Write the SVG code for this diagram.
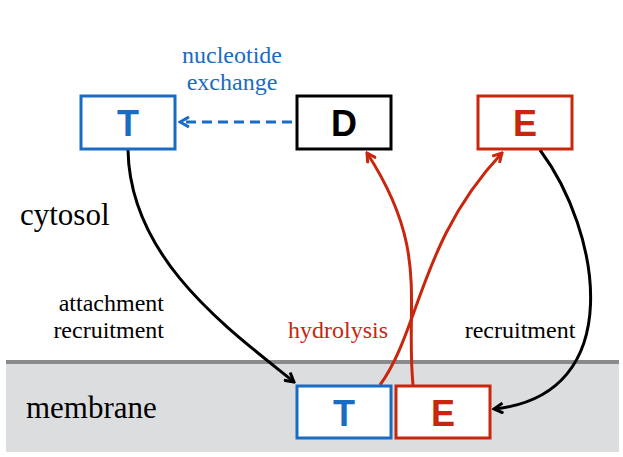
<svg xmlns="http://www.w3.org/2000/svg" width="623" height="457" viewBox="0 0 623 457">
<style>
.box{fill:#fff;stroke-width:3}
.lbl{font-family:"Liberation Sans",Arial,sans-serif;font-weight:bold;font-size:36px;text-anchor:middle}
.conn{fill:none;stroke-width:3}
</style>
<defs>
<marker id="ak" viewBox="0 0 12 12" refX="10" refY="6" markerWidth="12" markerHeight="12" markerUnits="userSpaceOnUse" orient="auto"><path d="M1,1 L10,6 L1,11" fill="none" stroke="#000" stroke-width="3"/></marker>
<marker id="ar" viewBox="0 0 12 12" refX="10" refY="6" markerWidth="12" markerHeight="12" markerUnits="userSpaceOnUse" orient="auto"><path d="M1,1 L10,6 L1,11" fill="none" stroke="#c8260d" stroke-width="3"/></marker>
<marker id="ab" viewBox="0 0 12 12" refX="10" refY="6" markerWidth="12" markerHeight="12" markerUnits="userSpaceOnUse" orient="auto"><path d="M1,1 L10,6 L1,11" fill="none" stroke="#1a6bc2" stroke-width="3"/></marker>
</defs>
<rect x="6" y="361" width="613" height="91" fill="#dcdddf"/>
<line x1="6" y1="362" x2="619" y2="362" stroke="#888a8c" stroke-width="4"/>
<g font-family="'Liberation Serif', 'DejaVu Serif', serif" font-size="24">
<text x="232" y="63" fill="#1a6bc2" text-anchor="middle">nucleotide</text>
<text x="232" y="90" fill="#1a6bc2" text-anchor="middle">exchange</text>
<text x="20" y="225" font-size="31">cytosol</text>
<text x="164" y="311" text-anchor="end">attachment</text>
<text x="164" y="338" text-anchor="end">recruitment</text>
<text x="338" y="338" fill="#c8260d" text-anchor="middle">hydrolysis</text>
<text x="520" y="338" text-anchor="middle">recruitment</text>
<text x="26" y="418" font-size="31">membrane</text>
</g>
<g id="connectors">
<path class="conn" d="M292,122 L180,122" stroke="#1a6bc2" stroke-dasharray="10,6" marker-end="url(#ab)"/>
<path class="conn" d="M128,150 C130,260 230,330 294,382" stroke="#000" marker-end="url(#ak)"/>
<path class="conn" d="M380,385 C420,330 420,240 502,153" stroke="#c8260d" marker-end="url(#ar)"/>
<path class="conn" d="M413,385 C405,300 430,250 367,153" stroke="#c8260d" marker-end="url(#ar)"/>
<path class="conn" d="M540,150 C600,230 630,395 494,409" stroke="#000" marker-end="url(#ak)"/>
</g>
<g id="T-top"><rect class="box" x="81" y="96" width="94" height="53" stroke="#1a6bc2"/><text class="lbl" x="128" y="136" fill="#1a6bc2">T</text></g>
<g id="D-top"><rect class="box" x="297" y="96" width="94" height="53" stroke="#000"/><text class="lbl" x="344" y="136" fill="#000">D</text></g>
<g id="E-top"><rect class="box" x="478" y="96" width="94" height="53" stroke="#c8260d"/><text class="lbl" x="525" y="136" fill="#c8260d">E</text></g>
<g id="T-mem"><rect class="box" x="297" y="386" width="94" height="52" stroke="#1a6bc2"/><text class="lbl" x="344" y="426" fill="#1a6bc2">T</text></g>
<g id="E-mem"><rect class="box" x="396" y="386" width="94" height="52" stroke="#c8260d"/><text class="lbl" x="443" y="426" fill="#c8260d">E</text></g>
</svg>
